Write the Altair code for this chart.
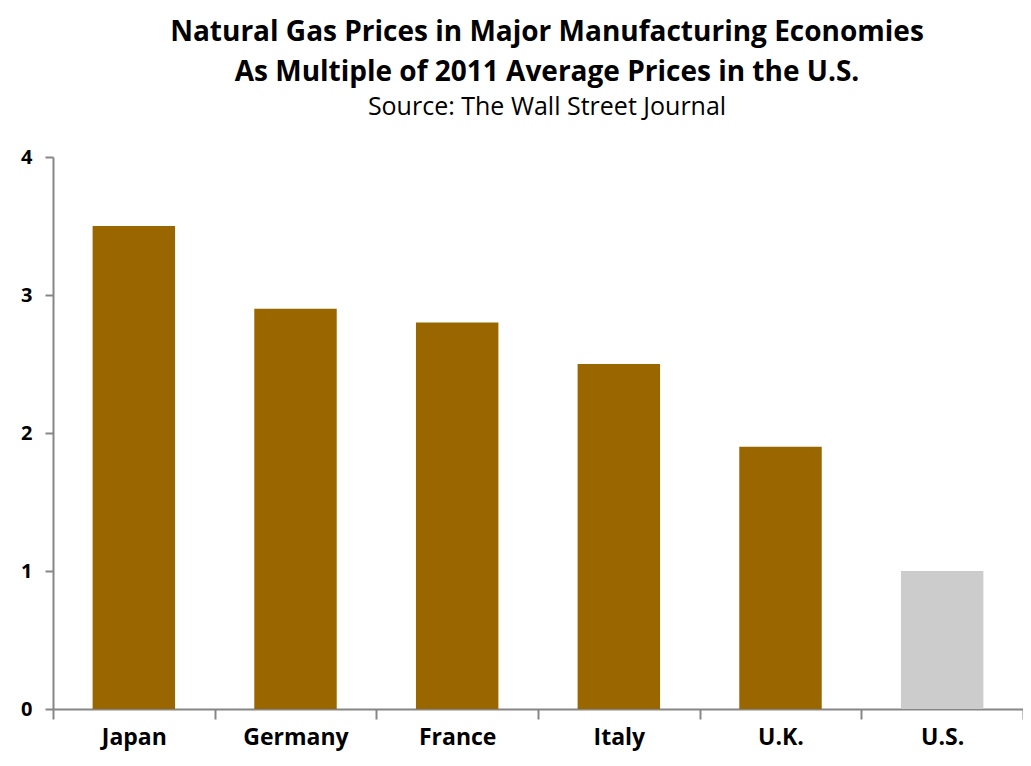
import altair as alt
import pandas as pd

countries = ["Japan", "Germany", "France", "Italy", "U.K.", "U.S."]
multiples = [3.5, 2.9, 2.8, 2.5, 1.9, 1.0]
colors = ["#996600", "#996600", "#996600", "#996600", "#996600", "#CCCCCC"]

df = pd.DataFrame({"country": countries, "value": multiples, "color": colors})

FONT = "Open Sans"

chart = alt.Chart(df).mark_bar(width=alt.RelativeBandSize(0.51)).encode(
    x=alt.X("country:N", sort=countries, title=None,
            scale=alt.Scale(paddingInner=0, paddingOuter=0),
            axis=alt.Axis(labelAngle=0, tickBand="extent", tickSize=10,
                          labelPadding=7, labelFontSize=23, labelFontWeight="bold",
                          labelColor="#000000", domainColor="#868686", tickColor="#868686",
                          domainWidth=2, tickWidth=2, labelFont=FONT)),
    y=alt.Y("value:Q", title=None,
            scale=alt.Scale(domain=[0, 4]),
            axis=alt.Axis(values=[0, 1, 2, 3, 4], tickSize=8, grid=False, labelPadding=13,
                          labelFontSize=20, labelFontWeight="bold", labelColor="#000000",
                          domainColor="#868686", tickColor="#868686", domainWidth=2,
                          tickWidth=2, labelFont=FONT, format="d")),
    color=alt.Color("color:N", scale=None, legend=None),
).properties(
    width=970,
    height=552,
    title=alt.TitleParams(
        text=["Natural Gas Prices in Major Manufacturing Economies",
              "As Multiple of 2011 Average Prices in the U.S."],
        subtitle="Source: The Wall Street Journal",
        font=FONT, fontSize=28, fontWeight="bold", color="#000000", lineHeight=40,
        subtitleFont=FONT, subtitleFontSize=25, subtitleColor="#000000",
        subtitlePadding=8, anchor="middle", offset=27, dx=9,
    ),
    autosize=alt.AutoSizeParams(type="none"),
    padding={"left": 45, "top": 149, "right": 0, "bottom": 50},
).configure_view(stroke=None)

chart.save("out.html", embed_options={"renderer": "svg", "actions": False})
